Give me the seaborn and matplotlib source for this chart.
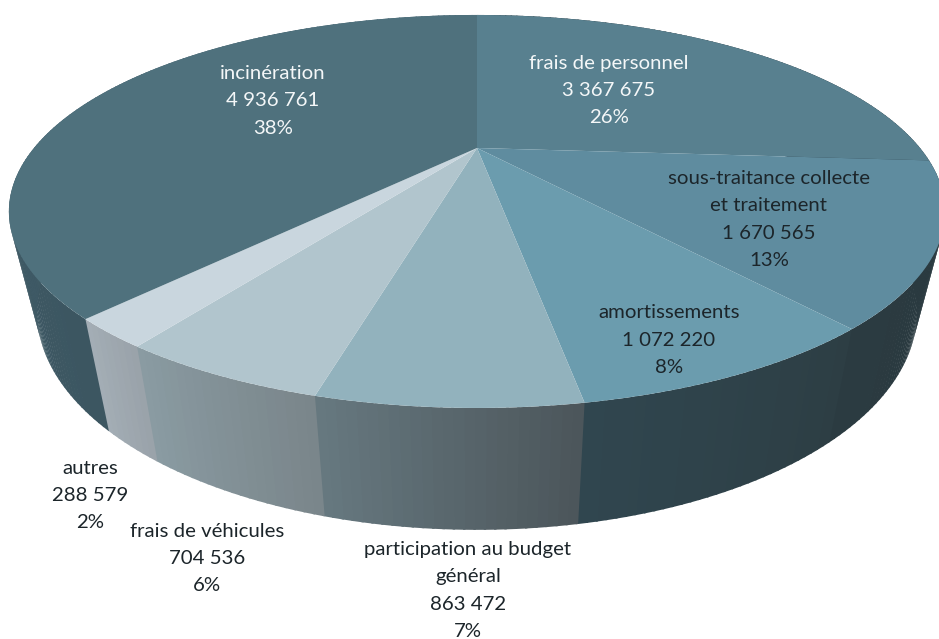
# Perspective pie of the operating costs, drawn in pixel coordinates of the picture
import numpy as np
import matplotlib
matplotlib.use("Agg")
import matplotlib.pyplot as plt
import seaborn as sns

# Data, clockwise from 12 o'clock
names = ["frais de personnel", "sous-traitance collecte\net traitement", "amortissements",
         "participation au budget\ngénéral", "frais de véhicules", "autres", "incinération"]
values = [3367675, 1670565, 1072220, 863472, 704536, 288579, 4936761]
percents = [26, 13, 8, 7, 6, 2, 38]

# Styles
top_colors = ["#58808f", "#5f8c9f", "#6b9cae", "#92b2bd", "#b1c5cd", "#c9d6de", "#4f717d"]
side_start = ["#2a3a41", "#29383e", "#2d3e44", "#4c565b", "#7a868b", "#9aa3aa", "#3c5661"]
side_end = ["#2a3a41", "#2b3b41", "#30464f", "#66787f", "#8a9ba2", "#a3adb5", "#466472"]
text_colors = ["#f4f7f8", "#1c252a", "#1c252a", "#1c252a", "#1c252a", "#1c252a", "#f4f7f8"]
label_pos = [(609, 90.5), (769, 219.5), (669, 340), (468, 590.5), (207, 558.5), (90, 495.5), (273, 101)]

sns.set_theme(style="white")
plt.rcParams["font.family"] = ["Lato", "DejaVu Sans"]

# Projection of the unit circle onto the picture
cx, cy = 477, 148
rx, ry, persp = 443, 176, 0.323


def top_rim(angle):
    x = np.sin(angle)
    y = np.cos(angle)
    return cx + rx * x / (1 + persp * y), cy - ry * y / (1 + persp * y)


def bottom_rim(angle):
    x, y = top_rim(angle)
    return cx + 0.94 * (x - cx), 1.11 * y + 77


fig = plt.figure(figsize=(9.39, 6.39), dpi=100)
ax = fig.add_axes([0, 0, 1, 1])
ax.set_xlim(0, 939)
ax.set_ylim(639, 0)
ax.axis("off")

edges = 2 * np.pi * np.concatenate([[0], np.cumsum(values)]) / np.sum(values)

# Sides first, as thin strips so that the shading changes along the rim
for i in range(len(values)):
    n = max(int((edges[i + 1] - edges[i]) * 60), 4)
    angles = np.linspace(edges[i], edges[i + 1], n + 1)
    shades = sns.blend_palette([side_start[i], side_end[i]], n)
    for j in range(n):
        # a little overlap with the next strip hides the seams
        a = np.linspace(angles[j], angles[j + 1] + 0.004, 4)
        tx, ty = top_rim(a)
        bx, by = bottom_rim(a)
        ax.fill(np.r_[tx, bx[::-1]], np.r_[ty, by[::-1]], color=shades[j], lw=0)

# Top faces
for i in range(len(values)):
    a = np.linspace(edges[i], edges[i + 1], 120)
    tx, ty = top_rim(a)
    ax.fill(np.r_[cx, tx], np.r_[cy, ty], color=top_colors[i], lw=0)

# Labels
for i in range(len(values)):
    value_text = f"{values[i]:,}".replace(",", " ")
    label = f"{names[i]}\n{value_text}\n{percents[i]}%"
    ax.text(label_pos[i][0], label_pos[i][1], label, ha="center", va="center",
            fontsize=14.7, color=text_colors[i], linespacing=1.72)

fig.savefig("out.png", dpi=100)
